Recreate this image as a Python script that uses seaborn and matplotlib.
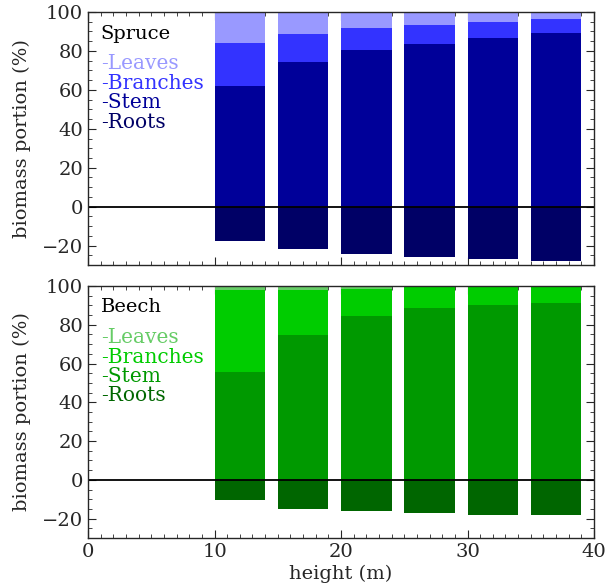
import numpy as np
import pandas as pd
import seaborn as sns
import matplotlib.pyplot as plt
from matplotlib.ticker import MultipleLocator

# height classes (bar centres, m)
heights = [12, 17, 22, 27, 32, 37]

# biomass portions (%)
spruce_leaves = [15.7, 11.4, 8.3, 6.5, 5.2, 3.4]
spruce_branches = [22.3, 14.1, 11.0, 9.7, 7.9, 7.4]
spruce_stem = [62.0, 74.5, 80.7, 83.8, 86.9, 89.2]
spruce_roots = [-17.7, -22.0, -24.1, -25.8, -26.9, -27.7]

beech_leaves = [1.9, 1.9, 1.4, 0.5, 0.3, 0.3]
beech_branches = [42.7, 23.6, 14.1, 10.9, 9.5, 8.5]
beech_stem = [55.4, 74.5, 84.5, 88.6, 90.2, 91.2]
beech_roots = [-10.5, -14.8, -16.2, -17.2, -17.9, -17.9]

components = ["Leaves", "Branches", "Stem", "Roots"]
spruce_colors = ["#9999ff", "#3333ff", "#000099", "#000066"]
beech_colors = ["#66cc66", "#00cc00", "#009900", "#006600"]

sns.set_style("ticks")
plt.rcParams["font.family"] = ["DejaVu Serif"]
plt.rcParams["xtick.direction"] = "in"
plt.rcParams["ytick.direction"] = "in"

fig = plt.figure(figsize=(6.07, 5.84), dpi=100)
ax_top = fig.add_axes([0.145, 0.5462, 0.8336, 0.4332])
ax_bot = fig.add_axes([0.145, 0.0788, 0.8336, 0.4315])


def draw_panel(ax, name, leaves, branches, stem, roots, colors):
    df = pd.DataFrame({"height": heights, "leaves": leaves, "branches": branches,
                       "stem": stem, "roots": roots})
    df["top_leaves"] = df["stem"] + df["branches"] + df["leaves"]
    df["top_branches"] = df["stem"] + df["branches"]
    # stacked by overdrawing cumulative tops
    for col, c in zip(["top_leaves", "top_branches", "stem", "roots"], colors):
        sns.barplot(data=df, x="height", y=col, native_scale=True, width=0.8,
                    color=c, saturation=1, errorbar=None, linewidth=0, ax=ax)
    ax.axhline(0, color="black", lw=1.3)
    ax.set_xlim(0, 40)
    ax.set_ylim(-30, 100)
    ax.xaxis.set_major_locator(MultipleLocator(10))
    ax.xaxis.set_minor_locator(MultipleLocator(1))
    ax.yaxis.set_major_locator(MultipleLocator(20))
    ax.yaxis.set_minor_locator(MultipleLocator(5))
    ax.tick_params(which="both", top=True, right=True, labelsize=14)
    ax.tick_params(which="major", length=6)
    ax.tick_params(which="minor", length=3)
    for s in ax.spines.values():
        s.set_linewidth(1.0)
    ax.set_ylabel("biomass portion (%)", fontsize=14)
    ax.set_xlabel("")
    ax.text(0.025, 0.915, name, transform=ax.transAxes, fontsize=14,
            color="black", va="center")
    for i, (lab, c) in enumerate(zip(components, colors)):
        ax.text(0.025, 0.795 - i * 0.077, "-" + lab, transform=ax.transAxes,
                fontsize=14.5, color=c, va="center")


draw_panel(ax_top, "Spruce", spruce_leaves, spruce_branches, spruce_stem,
           spruce_roots, spruce_colors)
draw_panel(ax_bot, "Beech", beech_leaves, beech_branches, beech_stem,
           beech_roots, beech_colors)

ax_top.tick_params(labelbottom=False)
ax_bot.set_xlabel("height (m)", fontsize=14, labelpad=3)
for ax in (ax_top, ax_bot):
    ax.yaxis.set_label_coords(-0.112, 0.5)

fig.savefig("out.png", dpi=100)
